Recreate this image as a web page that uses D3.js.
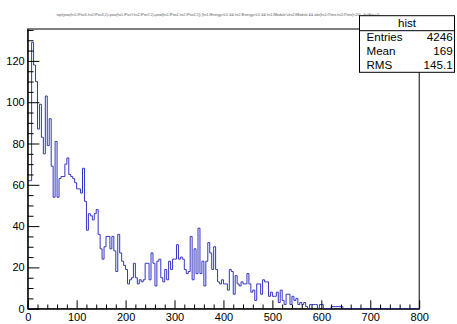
<!DOCTYPE html>
<html>
<head>
<meta charset="utf-8">
<script src="https://cdn.jsdelivr.net/npm/d3@7"></script>
<style>
  html, body { margin: 0; padding: 0; background: #fff; }
  svg { display: block; }
  text { font-family: "Liberation Sans", Arial, Helvetica, sans-serif; }
</style>
</head>
<body>
<svg id="c" width="457" height="324"></svg>
<script>
// Histogram "hist": 200 bins of width 4 on [0, 800]
const binLow = 0;
const binHigh = 800;
const binCounts = [
  62, 62, 129, 118, 110, 87, 99, 83, 75, 103,
  79, 92, 69, 54, 81, 54, 63, 64, 64, 70,
  73, 65, 64, 63, 61, 58, 58, 56, 68, 52,
  38, 46, 45, 43, 46, 48, 36, 29, 24, 30,
  35, 35, 29, 35, 28, 18, 36, 27, 23, 21,
  19, 12, 14, 15, 22, 15, 12, 14, 13, 14,
  22, 22, 14, 27, 22, 11, 23, 24, 15, 13,
  19, 14, 23, 19, 24, 24, 31, 24, 25, 24,
  19, 17, 18, 35, 14, 29, 17, 39, 17, 23,
  11, 23, 32, 27, 19, 30, 19, 13, 12, 14,
  12, 12, 9, 19, 18, 7, 16, 12, 11, 13,
  12, 12, 17, 12, 8, 9, 4, 12, 12, 7,
  14, 13, 13, 6, 8, 6, 6, 8, 3, 9,
  4, 2, 7, 7, 2, 6, 4, 5, 2, 3,
  2, 3, 1, 0, 2, 2, 2, 2, 0, 2,
  2, 0, 0, 0, 0, 1, 1, 1, 1, 1,
  1, 0, 0, 0, 0, 0, 0, 0, 0, 0,
  0, 0, 0, 0, 0, 0, 0, 0, 0, 0,
  0, 0, 0, 0, 0, 0, 0, 0, 0, 0,
  0, 0, 0, 0, 0, 0, 0, 0, 0, 0
];

// Axis ticks
const xMajorTicks = [0, 100, 200, 300, 400, 500, 600, 700, 800];
const xMinorTicks = d3.range(0, 801, 20).filter(v => v % 100 !== 0);
const yMajorTicks = [0, 20, 40, 60, 80, 100, 120];
const yMinorTicks = d3.range(0, 136, 5).filter(v => v % 20 !== 0);

// Statistics box
const statsName = "hist";
const statsLabels = ["Entries", "Mean", "RMS"];
const statsValues = ["4246", "169", "145.1"];

const titleText = "sqrt(pow(hs1.fPosX-hs2.fPosX,2)+pow(hs1.fPosY-hs2.fPosY,2)+pow(hs1.fPosZ-hs2.fPosZ,2)) {hs1.fEnergy>0.5 && hs2.fEnergy>0.5 && hs1.fModule!=hs2.fModule && abs(hs1.fTime-hs2.fTime)<20} - fit (Fit==1)";

const svg = d3.select("#c");

// Frame geometry
const frame = { left: 27.7, right: 419.2, top: 29, bottom: 308.7 };
const yMax = 1.05 * d3.max(binCounts);

const x = d3.scaleLinear().domain([binLow, binHigh]).range([frame.left, frame.right]);
const y = d3.scaleLinear().domain([0, yMax]).range([frame.bottom, frame.top]);

const binWidth = (binHigh - binLow) / binCounts.length;

// Title
svg.append("text")
  .attr("x", 218).attr("y", 16)
  .attr("text-anchor", "middle")
  .attr("font-size", 3.6)
  .attr("fill", "#555")
  .attr("textLength", 323)
  .attr("lengthAdjust", "spacingAndGlyphs")
  .text(titleText);

// Frame box
svg.append("rect")
  .attr("x", frame.left).attr("y", frame.top)
  .attr("width", frame.right - frame.left)
  .attr("height", frame.bottom - frame.top)
  .attr("fill", "none")
  .attr("stroke", "#000")
  .attr("stroke-width", 1);

// Histogram outline as steps
const pts = [[x(binLow), y(0)]];
binCounts.forEach((c, i) => {
  const lo = binLow + i * binWidth;
  pts.push([x(lo), y(c)]);
  pts.push([x(lo + binWidth), y(c)]);
});
pts.push([x(binHigh), y(0)]);

svg.append("path")
  .attr("d", d3.line()(pts))
  .attr("fill", "none")
  .attr("stroke", "#3434c4")
  .attr("stroke-width", 1);

// Axes (ticks inside the frame)
const fontSize = 11;
const xAxis = d3.axisBottom(x)
  .tickValues(xMajorTicks)
  .tickFormat(d3.format("d"))
  .tickSizeInner(-8.4)
  .tickSizeOuter(0)
  .tickPadding(5);
const xMinor = d3.axisBottom(x)
  .tickValues(xMinorTicks)
  .tickFormat("")
  .tickSizeInner(-4.2)
  .tickSizeOuter(0);
const yAxis = d3.axisLeft(y)
  .tickValues(yMajorTicks)
  .tickFormat(d3.format("d"))
  .tickSizeInner(-11.7)
  .tickSizeOuter(0)
  .tickPadding(3);
const yMinor = d3.axisLeft(y)
  .tickValues(yMinorTicks)
  .tickFormat("")
  .tickSizeInner(-5.85)
  .tickSizeOuter(0);

function styleAxis(g) {
  g.attr("font-family", null).attr("font-size", fontSize);
  g.selectAll("text").attr("fill", "#000");
  g.selectAll("line").attr("stroke", "#000");
  g.select(".domain").attr("stroke", "#000");
}

svg.append("g").attr("transform", `translate(0,${frame.bottom})`).call(xMinor)
  .call(g => g.select(".domain").remove()).call(styleAxis);
svg.append("g").attr("transform", `translate(0,${frame.bottom})`).call(xAxis).call(styleAxis);
svg.append("g").attr("transform", `translate(${frame.left},0)`).call(yMinor)
  .call(g => g.select(".domain").remove()).call(styleAxis);
svg.append("g").attr("transform", `translate(${frame.left},0)`).call(yAxis).call(styleAxis);

// Stats box
const box = { x0: 359.5, x1: 454.5, y0: 15.7, yHead: 30.7, y1: 72.3 };
const sg = svg.append("g");
sg.append("rect")
  .attr("x", box.x0).attr("y", box.y0)
  .attr("width", box.x1 - box.x0).attr("height", box.y1 - box.y0)
  .attr("fill", "#fff").attr("stroke", "#000").attr("stroke-width", 1);
sg.append("line")
  .attr("x1", box.x0).attr("x2", box.x1)
  .attr("y1", box.yHead).attr("y2", box.yHead)
  .attr("stroke", "#000");
sg.append("text")
  .attr("x", (box.x0 + box.x1) / 2).attr("y", 27.3)
  .attr("text-anchor", "middle")
  .attr("font-size", 11.6)
  .text(statsName);
const rowBase = [40.8, 55.1, 69.3];
statsLabels.forEach((lab, i) => {
  sg.append("text").attr("x", 366.5).attr("y", rowBase[i])
    .attr("font-size", 11.6).text(lab);
  sg.append("text").attr("x", 452.6).attr("y", rowBase[i])
    .attr("text-anchor", "end")
    .attr("font-size", 11.6).text(statsValues[i]);
});
</script>
</body>
</html>
